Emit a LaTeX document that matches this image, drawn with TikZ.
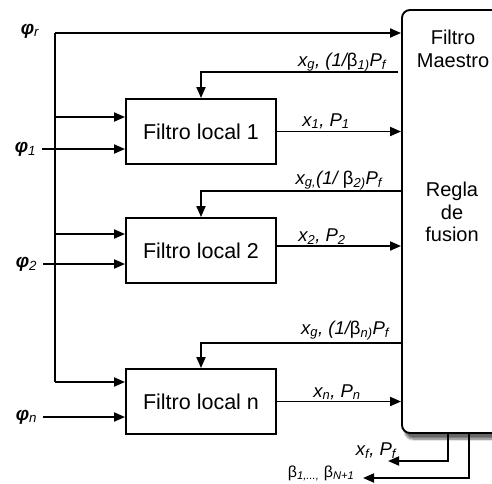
\documentclass[tikz,border=0pt]{standalone}
\usepackage{fontspec}
\setmainfont{Liberation Sans}
\usetikzlibrary{arrows.meta,shadows.blur,calc}
\begin{document}
\begin{tikzpicture}[x=1pt,y=-1pt,
  line width=1.9pt,
  arr/.style={-{Triangle[length=11pt,width=9pt]}},
  lbox/.style={draw, line width=1.9pt, minimum width=150pt, minimum height=65pt, inner sep=0pt, font=\fontsize{21.5}{24}\selectfont},
  mtext/.style={align=center, inner sep=0pt, font=\fontsize{20}{22.5}\selectfont},
  lbl/.style={font=\fontsize{18.5}{20}\selectfont\itshape, inner sep=0pt},
  slbl/.style={font=\fontsize{16}{18}\selectfont\itshape, inner sep=0pt},
  phil/.style={font=\fontsize{19}{20}\selectfont\itshape\bfseries, inner sep=0pt, anchor=east},
]
\useasboundingbox (0,0) rectangle (492,483);
\clip (0,0) rectangle (492,483);

% master filter
\node (M) [draw, fill=white, rounded corners=8pt, minimum width=128pt, minimum height=423pt, inner sep=0pt,
  blur shadow={shadow xshift=3pt, shadow yshift=-6pt, shadow blur steps=8, shadow opacity=60}] at (466,221.5) {};
\node (MT) [mtext] at (453,49) {Filtro\\Maestro};
\node (RF) [mtext] at (452,212) {Regla\\de\\fusion};

% local filters
\node (L1) [lbox] at (201,131.5) {Filtro local 1};
\node (L2) [lbox] at (201,250.5) {Filtro local 2};
\node (Ln) [lbox] at (201,401.5) {Filtro local n};

% input labels
\node (pr) [phil] at (40,31) {φ\textsubscript{\textmd{r}}};
\node (p1) [phil] at (37,149) {φ\textsubscript{\textmd{1}}};
\node (p2) [phil] at (38,264) {φ\textsubscript{\textmd{2}}};
\node (pn) [phil] at (38,417) {φ\textsubscript{\textmd{n}}};

% bus
\coordinate (bt) at (55,33);
\coordinate (t1) at (55,117);
\coordinate (t2) at (55,234);
\coordinate (tn) at (55,382);
\draw[arr] (bt) -- (bt -| M.west);
\draw (bt) -- (tn);
\draw[arr] (t1) -- (t1 -| L1.west);
\draw[arr] (t2) -- (t2 -| L2.west);
\draw[arr] (tn) -- (tn -| Ln.west);

\coordinate (s1) at (42,149);
\coordinate (s2) at (43,264);
\coordinate (sn) at (43,417);
\draw[arr] (s1) -- (s1 -| L1.west);
\draw[arr] (s2) -- (s2 -| L2.west);
\draw[arr] (sn) -- (sn -| Ln.west);

% feedback
\coordinate (f1) at (398,72);
\coordinate (f2) at (402,191);
\coordinate (fn) at (401,343);
\draw[arr] (f1) -| (L1.north);
\draw[arr] (f2) -| (L2.north);
\draw[arr] (fn) -| (Ln.north);
\node (lf1) [lbl, anchor=base east] at (387,66) {x\textsubscript{g}, (1/{\upshape β}\textsubscript{1)}P\textsubscript{f}};
\node (lf2) [lbl, anchor=base east] at (383,184) {x\textsubscript{g,}(1/ {\upshape β}\textsubscript{2)}P\textsubscript{f}};
\node (lfn) [lbl, anchor=base east] at (390,334) {x\textsubscript{g}, (1/{\upshape β}\textsubscript{n)}P\textsubscript{f}};

% outputs
\coordinate (o2) at (276,246);
\draw[arr] (L1.east) -- (L1.east -| M.west);
\draw[arr] (o2) -- (o2 -| M.west);
\draw[arr] (Ln.east) -- (Ln.east -| M.west);
\node (lo1) [lbl, anchor=base] at (326,126) {x\textsubscript{1}, P\textsubscript{1}};
\node (lo2) [lbl, anchor=base] at (322,241) {x\textsubscript{2}, P\textsubscript{2}};
\node (lon) [lbl, anchor=base] at (337,397) {x\textsubscript{n}, P\textsubscript{n}};

% master outputs
\coordinate (xf) at (388,461);
\coordinate (bb) at (363,478);
\draw[arr] (M.south -| 448,0) |- (xf);
\draw[arr] (M.south -| 469,0) |- (bb);
\node (lxf) [lbl, anchor=base] at (376,455) {x\textsubscript{f}, P\textsubscript{f}};
\node (lbb) [slbl, anchor=base west] at (287,477) {{\upshape β}\textsubscript{1,...,} {\upshape β}\textsubscript{N+1}};
\end{tikzpicture}
\end{document}
